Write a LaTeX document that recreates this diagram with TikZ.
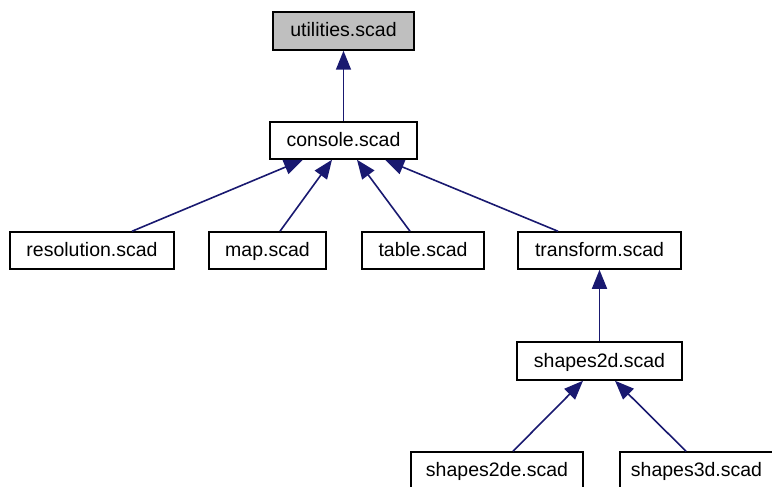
\documentclass[tikz,border=0pt]{standalone}
\usepackage{fontspec}
\setmainfont{Liberation Sans}
\usetikzlibrary{arrows.meta}
\definecolor{edgeblue}{HTML}{191970}
\definecolor{rootgray}{HTML}{BFBFBF}
\begin{document}
\begin{tikzpicture}[x=1pt,y=-1pt,
  box/.style={draw=black, line width=1.5pt, fill=white, rectangle, inner sep=0pt,
    minimum height=37pt, text height=15pt, text depth=3pt,
    font=\fontsize{19.5}{23}\selectfont},
  edge/.style={draw=edgeblue, line width=1.6pt,
    -{Triangle[length=19pt,width=15pt]}}]
\useasboundingbox (0,0) rectangle (772,487);
\clip (0,0) rectangle (772,487);
\node[box, fill=rootgray, minimum width=141pt, minimum height=38pt] (util) at (343.5,31) {utilities.scad};
\node[box, minimum width=147pt] (console) at (343.5,140.5) {console.scad};
\node[box, minimum width=164pt] (res) at (92,250.5) {resolution.scad};
\node[box, minimum width=117pt] (map) at (267.5,250.5) {map.scad};
\node[box, minimum width=122pt] (table) at (423,250.5) {table.scad};
\node[box, minimum width=163pt] (trans) at (599.5,250.5) {transform.scad};
\node[box, minimum width=165pt, minimum height=38pt] (s2d) at (599.5,361) {shapes2d.scad};
\node[box, minimum width=172pt] (s2de) at (497,470.5) {shapes2de.scad};
\node[box, minimum width=153pt] (s3d) at (696.5,470.5) {shapes3d.scad};

\draw[edge] (console.north) -- (util.south);
\draw[edge] ([xshift=40pt]res.north) -- ([xshift=-40.5pt]console.south);
\draw[edge] ([xshift=12.5pt]map.north) -- ([xshift=-11.5pt]console.south);
\draw[edge] ([xshift=-13pt]table.north) -- ([xshift=13.5pt]console.south);
\draw[edge] ([xshift=-41.5pt]trans.north) -- ([xshift=41.5pt]console.south);
\draw[edge] (s2d.north) -- (trans.south);
\draw[edge] ([xshift=16pt]s2de.north) -- ([xshift=-16.5pt]s2d.south);
\draw[edge] ([xshift=-10.5pt]s3d.north) -- ([xshift=15.5pt]s2d.south);
\end{tikzpicture}
\end{document}
